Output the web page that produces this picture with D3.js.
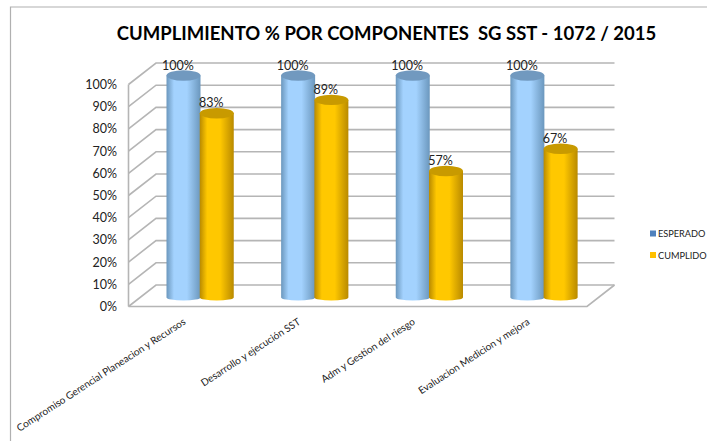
<!DOCTYPE html>
<html>
<head>
<meta charset="utf-8">
<script src="https://cdn.jsdelivr.net/npm/d3@7"></script>
<style>
  html, body { margin: 0; background: #fff; }
  svg { display: block; }
</style>
</head>
<body>
<div id="chart"></div>
<script>
const categories = [
  "Compromiso Gerencial Planeacion y Recursos",
  "Desarrollo y ejecución SST",
  "Adm y Gestion del riesgo",
  "Evaluacion Medicion y mejora"
];
const esperado = [100, 100, 100, 100];
const cumplido = [83, 89, 57, 67];
const series_names = ["ESPERADO", "CUMPLIDO"];
const y_ticks = [0, 10, 20, 30, 40, 50, 60, 70, 80, 90, 100];

const font = "Lato, 'Open Sans', sans-serif";
const svg = d3.select("#chart").append("svg").attr("width", 707).attr("height", 441);

// depth of the 3d box
const depth_x = 27.5, depth_y = 21.5;

const x = d3.scaleBand().domain(categories).range([128.5, 587]);
const y = d3.scaleLinear().domain([0, 100]).range([306.5, 84.5]);

const defs = svg.append("defs");
function body_gradient(id, edge, mid) {
  const g = defs.append("linearGradient").attr("id", id);
  g.append("stop").attr("offset", "0%").attr("stop-color", edge);
  g.append("stop").attr("offset", "22%").attr("stop-color", mid);
  g.append("stop").attr("offset", "60%").attr("stop-color", mid);
  g.append("stop").attr("offset", "100%").attr("stop-color", edge);
}
body_gradient("blue_body", "#6b97bd", "#a3d2fe");
body_gradient("orange_body", "#b98a00", "#ffc800");

// frame, only top and left show in the picture
svg.append("path")
  .attr("d", "M10.5,441 V7 H707")
  .attr("fill", "none").attr("stroke", "#b0b0b0").attr("stroke-width", 1.2);

svg.append("text")
  .attr("x", 386.5).attr("y", 40)
  .attr("text-anchor", "middle")
  .attr("font-family", font).attr("font-weight", 700).attr("font-size", 18.5)
  .attr("fill", "#000")
  .style("white-space", "pre")
  .text("CUMPLIMIENTO % POR COMPONENTES  SG SST - 1072 / 2015");

// walls and floor lines
const grid = svg.append("g").attr("fill", "none").attr("stroke", "#b5b5b5").attr("stroke-width", 1.6);
grid.selectAll(".back")
  .data(y_ticks)
  .join("path")
  .attr("class", "back")
  .attr("d", d => d3.line()([
    [x.range()[0], y(d)],
    [x.range()[0] + depth_x, y(d) - depth_y],
    [x.range()[1] + depth_x, y(d) - depth_y]
  ]));
grid.append("path").attr("d", d3.line()([
  [x.range()[0], y(0)], [x.range()[0], y(100)]
]));
grid.append("path").attr("d", d3.line()([
  [x.range()[0], y(0)],
  [x.range()[1], y(0)],
  [x.range()[1] + depth_x, y(0) - depth_y]
]));

// y axis labels
const y_axis = svg.append("g")
  .attr("transform", `translate(${x.range()[0] - 11.5},0)`)
  .call(d3.axisLeft(y).tickValues(y_ticks).tickSize(0).tickPadding(0).tickFormat(d => d + "%"));
y_axis.select(".domain").remove();
y_axis.selectAll("text")
  .attr("font-family", font).attr("font-size", 12.5).attr("fill", "#222");

// cylinders
const bar_w = 34;
const rx = bar_w / 2, ry = 5.2, ry_bottom = 3;
const shift_x = 38, shift_y = -9;
const inner = d3.scaleBand().domain(series_names).range([0, 2 * bar_w - 1.5]);

function draw_bars(values, name, fill_id, top_color) {
  const g = svg.append("g").selectAll("g")
    .data(values.map((v, i) => ({ v: v, c: categories[i] })))
    .join("g")
    .attr("transform", d => `translate(${x(d.c) + inner(name) + shift_x},${shift_y})`);
  g.append("path")
    .attr("fill", `url(#${fill_id})`)
    .attr("d", d => `M0,${y(d.v)} V${y(0)} A${rx},${ry_bottom} 0 0 0 ${bar_w},${y(0)} V${y(d.v)} Z`);
  g.append("ellipse")
    .attr("cx", rx).attr("cy", d => y(d.v))
    .attr("rx", rx).attr("ry", ry)
    .attr("fill", top_color);
  g.append("text")
    .attr("x", rx - 5.5).attr("y", d => y(d.v) - 6)
    .attr("text-anchor", "middle")
    .attr("font-family", font).attr("font-size", 12.5).attr("fill", "#222")
    .text(d => d.v + "%");
}
draw_bars(esperado, series_names[0], "blue_body", "#7199bf");
draw_bars(cumplido, series_names[1], "orange_body", "#c89a00");

// rotated category labels, end anchored under each group
svg.append("g").selectAll("text")
  .data(categories)
  .join("text")
  .attr("transform", d => `translate(${x(d) + 58},${y(0) + 17}) rotate(-33)`)
  .attr("text-anchor", "end")
  .attr("font-family", font).attr("font-size", 10).attr("fill", "#222")
  .text(d => d);

// legend
const legend_colors = ["#4f81bd", "#ffc000"];
const legend = svg.append("g").selectAll("g")
  .data(series_names)
  .join("g")
  .attr("transform", (d, i) => `translate(650,${233.5 + i * 21.5})`);
legend.append("rect")
  .attr("y", -3).attr("width", 6).attr("height", 6)
  .attr("fill", (d, i) => legend_colors[i]);
legend.append("text")
  .attr("x", 8).attr("y", 3.5)
  .attr("font-family", font).attr("font-size", 9.2).attr("fill", "#222")
  .text(d => d);
</script>
</body>
</html>
